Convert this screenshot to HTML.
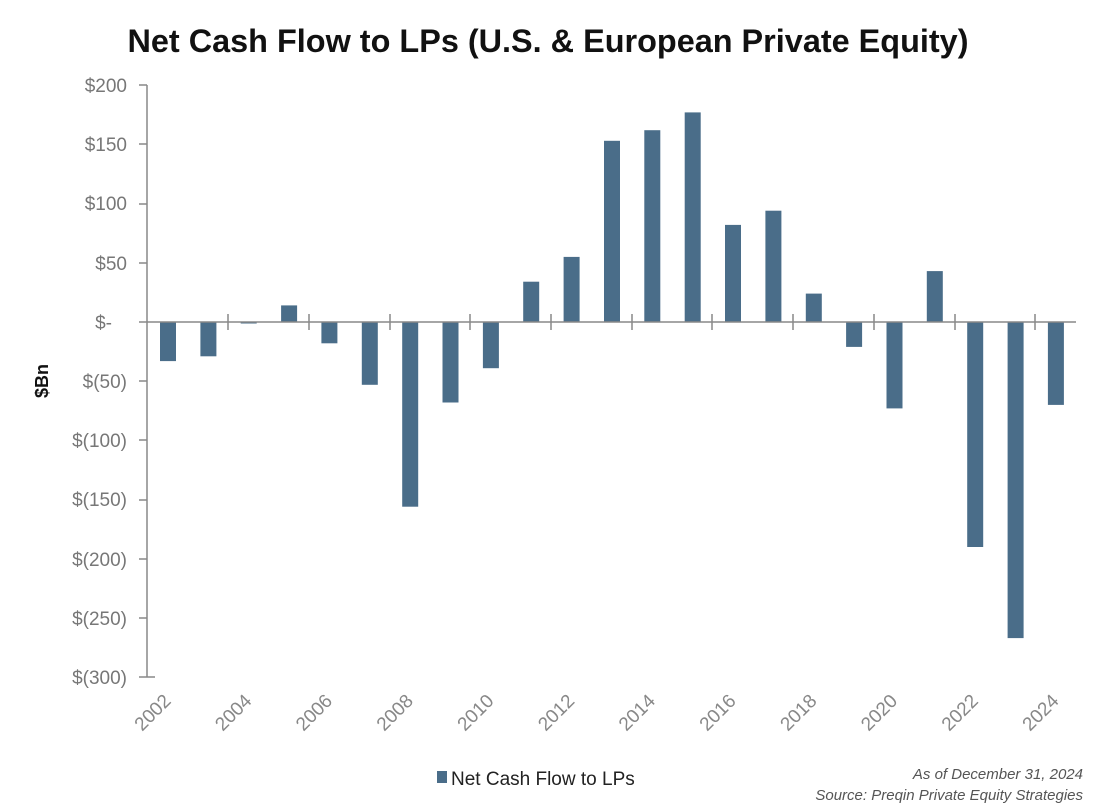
<!DOCTYPE html>
<html><head><meta charset="utf-8"><style>
html,body{margin:0;padding:0;background:#fff;}
svg{display:block;}
text{font-family:"Liberation Sans",sans-serif;}
</style></head><body>
<svg width="1100" height="812" viewBox="0 0 1100 812" xmlns="http://www.w3.org/2000/svg">
<text x="548" y="52" text-anchor="middle" font-size="32" font-weight="bold" fill="#111" textLength="841" lengthAdjust="spacingAndGlyphs">Net Cash Flow to LPs (U.S. &amp; European Private Equity)</text>
<g fill="#777" font-size="19" text-anchor="end">
<text x="127" y="92">$200</text>
<text x="127" y="151">$150</text>
<text x="127" y="210">$100</text>
<text x="127" y="270">$50</text>
<text x="112" y="329">$-</text>
<text x="127" y="388">$(50)</text>
<text x="127" y="447">$(100)</text>
<text x="127" y="506">$(150)</text>
<text x="127" y="566">$(200)</text>
<text x="127" y="625">$(250)</text>
<text x="127" y="684">$(300)</text>
</g>
<text transform="translate(48,381) rotate(-90)" font-size="18" font-weight="bold" fill="#111" text-anchor="middle">$Bn</text>
<g fill="#4a6d89">
<rect x="160" y="322" width="16" height="39.1"/>
<rect x="200.4" y="322" width="16" height="34.3"/>
<rect x="240.7" y="322" width="16" height="1.5"/>
<rect x="281.1" y="305.4" width="16" height="16.6"/>
<rect x="321.4" y="322" width="16" height="21.3"/>
<rect x="361.8" y="322" width="16" height="62.8"/>
<rect x="402.2" y="322" width="16" height="184.7"/>
<rect x="442.5" y="322" width="16" height="80.5"/>
<rect x="482.9" y="322" width="16" height="46.2"/>
<rect x="523.2" y="281.7" width="16" height="40.3"/>
<rect x="563.6" y="256.9" width="16" height="65.1"/>
<rect x="604.0" y="140.8" width="16" height="181.2"/>
<rect x="644.3" y="130.2" width="16" height="191.8"/>
<rect x="684.7" y="112.4" width="16" height="209.6"/>
<rect x="725.0" y="224.9" width="16" height="97.1"/>
<rect x="765.4" y="210.7" width="16" height="111.3"/>
<rect x="805.8" y="293.6" width="16" height="28.4"/>
<rect x="846.1" y="322" width="16" height="24.9"/>
<rect x="886.5" y="322" width="16" height="86.4"/>
<rect x="926.8" y="271.1" width="16" height="50.9"/>
<rect x="967.2" y="322" width="16" height="225"/>
<rect x="1007.6" y="322" width="16" height="316.1"/>
<rect x="1047.9" y="322" width="16" height="82.9"/>
</g>
<g stroke="#888" stroke-width="1.5">
<line x1="147" y1="85" x2="147" y2="677"/>
<line x1="147" y1="322" x2="1076" y2="322"/>
<line x1="139" y1="85" x2="147" y2="85"/>
<line x1="139" y1="144" x2="147" y2="144"/>
<line x1="139" y1="204" x2="147" y2="204"/>
<line x1="139" y1="263" x2="147" y2="263"/>
<line x1="139" y1="322" x2="147" y2="322"/>
<line x1="139" y1="381" x2="147" y2="381"/>
<line x1="139" y1="440" x2="147" y2="440"/>
<line x1="139" y1="500" x2="147" y2="500"/>
<line x1="139" y1="559" x2="147" y2="559"/>
<line x1="139" y1="618" x2="147" y2="618"/>
<line x1="139" y1="677" x2="155" y2="677"/>
<line x1="228" y1="314" x2="228" y2="330"/>
<line x1="309" y1="314" x2="309" y2="330"/>
<line x1="390" y1="314" x2="390" y2="330"/>
<line x1="470" y1="314" x2="470" y2="330"/>
<line x1="551" y1="314" x2="551" y2="330"/>
<line x1="632" y1="314" x2="632" y2="330"/>
<line x1="712" y1="314" x2="712" y2="330"/>
<line x1="793" y1="314" x2="793" y2="330"/>
<line x1="874" y1="314" x2="874" y2="330"/>
<line x1="955" y1="314" x2="955" y2="330"/>
<line x1="1035" y1="314" x2="1035" y2="330"/>
</g>
<g fill="#888" font-size="19" text-anchor="end">
<text transform="translate(172,702) rotate(-45)">2002</text>
<text transform="translate(252.7,702) rotate(-45)">2004</text>
<text transform="translate(333.4,702) rotate(-45)">2006</text>
<text transform="translate(414.2,702) rotate(-45)">2008</text>
<text transform="translate(494.9,702) rotate(-45)">2010</text>
<text transform="translate(575.6,702) rotate(-45)">2012</text>
<text transform="translate(656.3,702) rotate(-45)">2014</text>
<text transform="translate(737,702) rotate(-45)">2016</text>
<text transform="translate(817.8,702) rotate(-45)">2018</text>
<text transform="translate(898.5,702) rotate(-45)">2020</text>
<text transform="translate(979.2,702) rotate(-45)">2022</text>
<text transform="translate(1059.9,702) rotate(-45)">2024</text>
</g>
<rect x="437" y="771" width="10" height="12" fill="#4a6d89"/>
<text x="451" y="785" font-size="19" fill="#222">Net Cash Flow to LPs</text>
<g fill="#555" font-size="15" font-style="italic" text-anchor="end">
<text x="1083" y="779">As of December 31, 2024</text>
<text x="1083" y="800">Source: Preqin Private Equity Strategies</text>
</g>
</svg>
</body></html>
